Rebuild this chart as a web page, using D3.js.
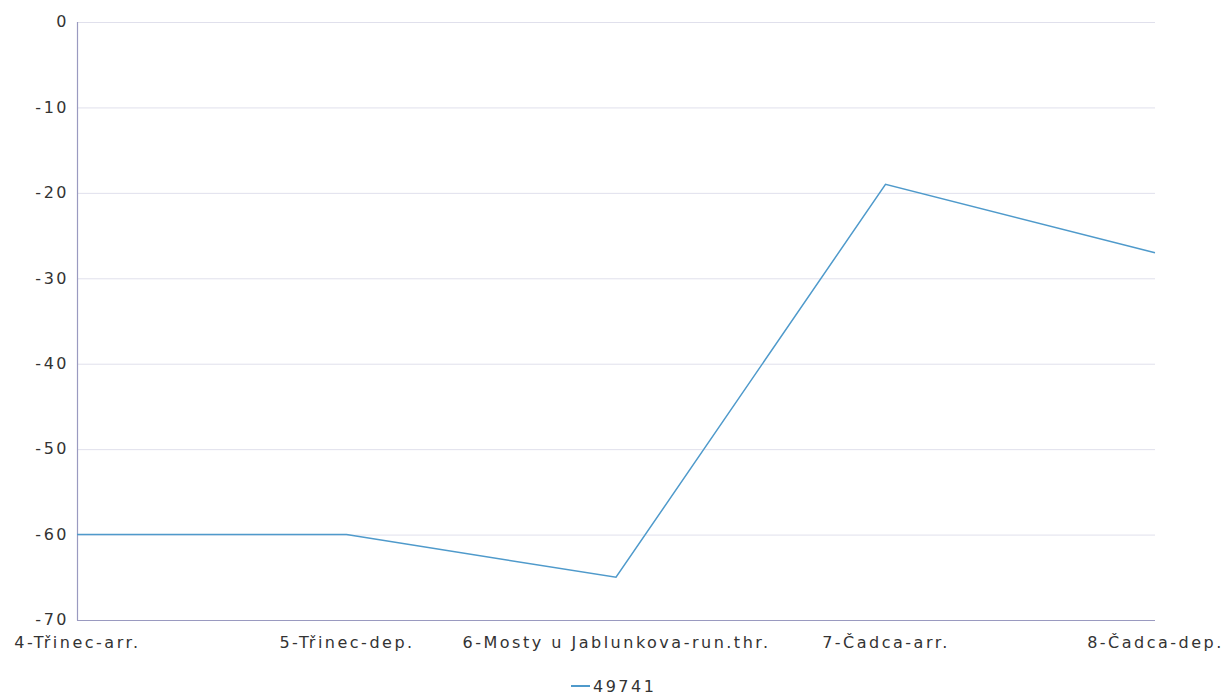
<!DOCTYPE html>
<html><head><meta charset="utf-8">
<script src="https://cdn.jsdelivr.net/npm/d3@7"></script>
<style>body{margin:0;background:#fff}svg{display:block}text{font-family:"DejaVu Sans",sans-serif;fill:#333}</style>
</head><body>
<svg id="c" width="1231" height="695"></svg>
<script>
const categories = ["4-Třinec-arr.","5-Třinec-dep.","6-Mosty u Jablunkova-run.thr.","7-Čadca-arr.","8-Čadca-dep."];
const seriesName = "49741";
const values = [-60,-60,-65,-19,-27];
const yTicks = [0,-10,-20,-30,-40,-50,-60,-70];

const svg = d3.select("#c");
const L=77,R=1155,T=22,B=620;
const x = d3.scalePoint().domain(categories).range([L,R]);
const y = d3.scaleLinear().domain([-70,0]).range([B,T]);

svg.append("g").selectAll("line").data(yTicks).join("line")
  .attr("x1",L).attr("x2",R).attr("y1",d=>y(d)+0.5).attr("y2",d=>y(d)+0.5)
  .attr("stroke","#e0e0ec").attr("stroke-width",1);

const ya = svg.append("g").attr("transform",`translate(${L},0)`)
  .call(d3.axisLeft(y).tickValues(yTicks).tickSize(0).tickPadding(8).tickFormat(d=>String(d)));
ya.select(".domain").remove();
ya.selectAll("text").style("font-size","16px").style("letter-spacing","2.5px").style("fill","#333").style("font-family","DejaVu Sans").attr("dy","0.3em");

const xa = svg.append("g").attr("transform",`translate(0,${B})`)
  .call(d3.axisBottom(x).tickSize(0).tickPadding(17));
xa.select(".domain").remove();
xa.selectAll("text").style("font-size","16px").style("letter-spacing","2.5px").style("fill","#333").style("font-family","DejaVu Sans");

svg.append("line").attr("x1",L+0.5).attr("x2",L+0.5).attr("y1",T).attr("y2",B+0.5).attr("stroke","#9a9ac0").attr("stroke-width",1.2);
svg.append("line").attr("x1",L).attr("x2",R).attr("y1",B+0.5).attr("y2",B+0.5).attr("stroke","#9a9ac0").attr("stroke-width",1.2);

const line = d3.line().x((d,i)=>x(categories[i])).y(d=>y(d));
svg.append("path").datum(values).attr("d",line).attr("fill","none").attr("stroke","#4f9acb").attr("stroke-width",1.5);

const lg = svg.append("g").attr("transform","translate(571,686)");
lg.append("line").attr("x1",0).attr("x2",19).attr("y1",0).attr("y2",0).attr("stroke","#4f9acb").attr("stroke-width",2);
lg.append("text").attr("x",22).attr("y",0).attr("dy","0.35em").style("font-size","16px").style("letter-spacing","2.5px").text(seriesName);
</script>
</body></html>
